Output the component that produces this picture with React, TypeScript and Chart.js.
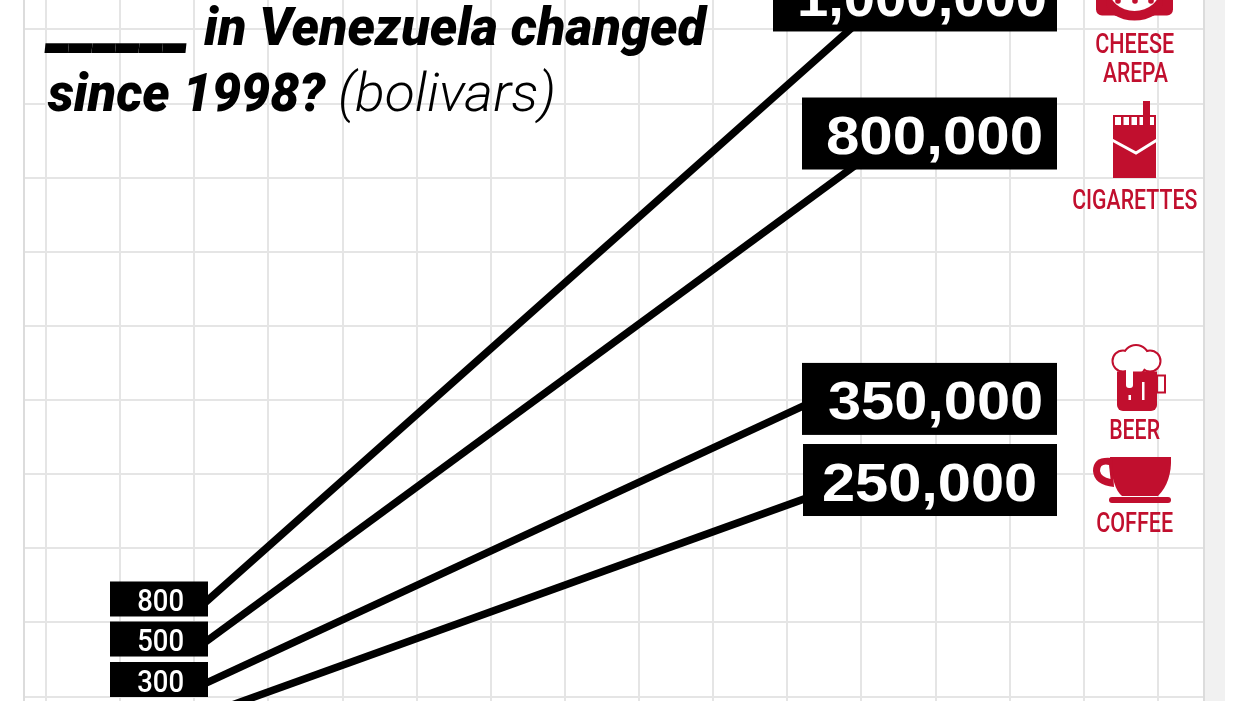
import React, { useEffect, useRef } from "react";
import { Chart, registerables } from "chart.js";

Chart.register(...registerables);

// Slope positions on the graph-paper scale (one unit = one grid square)
const items = ["Cheese arepa", "Cigarettes", "Beer", "Coffee"];
const sinceX = [2.1, 11.25];
const startPos = [1.228, 0.701, 0.156, -0.26];
const endPos = [9.36, 7.41, 4.4, 3.035];

const startLabels = ["800", "500", "300"];
const startLabelPos = [1.317, 0.777, 0.231];
const endLabels = ["1,000,000", "800,000", "350,000", "250,000"];
const endLabelPos = [9.458, 7.596, 4.016, 2.922];

const gridX = [0, 1, 2, 3, 4, 5, 6, 7, 8, 9, 10, 11, 12, 13, 14, 15];
const gridY = [0, 1, 2, 3, 4, 5, 6, 7, 8, 9];

const RED = "#c10f2e";
const GRID = "#e5e5e5";

function fit(ctx: CanvasRenderingContext2D, text: string, left: number, base: number, w: number, font: string, color: string) {
  ctx.save();
  ctx.font = font;
  ctx.fillStyle = color;
  ctx.textAlign = "left";
  ctx.textBaseline = "alphabetic";
  const m = ctx.measureText(text);
  const ink = m.actualBoundingBoxRight + m.actualBoundingBoxLeft;
  const k = w / ink;
  ctx.translate(left, base);
  ctx.scale(k, 1);
  ctx.fillText(text, m.actualBoundingBoxLeft, 0);
  ctx.restore();
}

function drawIcons(c: CanvasRenderingContext2D) {
  c.save();
  c.fillStyle = RED;
  // cheese arepa
  c.beginPath();
  c.roundRect(1096, -20, 77, 35.5, 6);
  c.fill();
  c.beginPath();
  c.ellipse(1134.5, 3, 28, 17.5, 0, 0, Math.PI * 2);
  c.fill();
  c.fillStyle = "#fff";
  c.beginPath();
  c.ellipse(1134.5, -12, 26, 23, 0, 0, Math.PI * 2);
  c.fill();
  c.fillStyle = RED;
  [1118, 1135, 1151].forEach((x) => {
    c.beginPath();
    c.arc(x, 1, 2.8, 0, Math.PI * 2);
    c.fill();
  });
  // cigarettes
  c.fillStyle = RED;
  c.fillRect(1143, 101, 7, 16);
  c.fillRect(1113, 115, 43, 63);
  c.fillStyle = "#fff";
  c.fillRect(1115, 117, 39, 8);
  c.fillStyle = RED;
  [1121, 1129, 1137, 1143].forEach((x) => c.fillRect(x, 117, 2.5, 8));
  c.fillRect(1143, 115, 7, 11);
  c.strokeStyle = "#fff";
  c.lineWidth = 3;
  c.beginPath();
  c.moveTo(1112, 140);
  c.lineTo(1136, 153);
  c.lineTo(1157, 140);
  c.stroke();
  // beer
  c.fillStyle = RED;
  c.strokeStyle = RED;
  c.lineWidth = 2;
  c.strokeRect(1157, 375.5, 8, 17);
  const foam: [number, number, number][] = [[1136, 358, 12], [1123, 361, 9.5], [1150, 361, 9.5], [1136, 365, 9]];
  c.beginPath();
  foam.forEach(([x, y, r]) => { c.moveTo(x + r + 2, y); c.arc(x, y, r + 2, 0, Math.PI * 2); });
  c.fill();
  c.fillStyle = "#fff";
  c.beginPath();
  foam.forEach(([x, y, r]) => { c.moveTo(x + r, y); c.arc(x, y, r, 0, Math.PI * 2); });
  c.fill();
  c.fillStyle = RED;
  c.beginPath();
  c.roundRect(1117, 371.5, 40, 39.5, [0, 0, 6, 6]);
  c.fill();
  c.fillStyle = "#fff";
  c.beginPath();
  c.roundRect(1126, 366, 7, 22, 3);
  c.fill();
  c.fillRect(1142, 382, 2.5, 18);
  c.fillRect(1128.5, 395, 2.5, 5);
  // coffee
  c.fillStyle = RED;
  c.beginPath();
  c.moveTo(1110, 457);
  c.lineTo(1171, 457);
  c.quadraticCurveTo(1172, 482, 1158, 496);
  c.lineTo(1122, 496);
  c.quadraticCurveTo(1112, 488, 1110, 457);
  c.fill();
  c.beginPath();
  c.moveTo(1112, 458);
  c.quadraticCurveTo(1093, 456, 1093, 471);
  c.quadraticCurveTo(1094, 485, 1114, 487);
  c.closePath();
  c.fill();
  c.fillStyle = "#fff";
  c.beginPath();
  c.moveTo(1109, 465);
  c.quadraticCurveTo(1100, 463, 1100, 471);
  c.quadraticCurveTo(1101, 477, 1110.5, 479);
  c.closePath();
  c.fill();
  c.fillStyle = RED;
  c.beginPath();
  c.roundRect(1109, 497, 62, 6, 3);
  c.fill();
  c.restore();
}

const decorations = {
  id: "decorations",
  beforeDraw(chart: any) {
    const c = chart.ctx as CanvasRenderingContext2D;
    c.save();
    c.fillStyle = "#fff";
    c.fillRect(0, 0, 1245, 701);
    c.fillStyle = "#f1f1f1";
    c.fillRect(1205, 0, 20, 701);
    c.restore();
  },
  beforeDatasetsDraw(chart: any) {
    const c = chart.ctx as CanvasRenderingContext2D;
    const a = chart.chartArea;
    c.save();
    c.fillStyle = "#dcdcdc";
    c.fillRect(a.left - 1, 0, 2, 701);
    c.fillRect(a.right - 1, 0, 2, 701);
    c.restore();
    const bold = "italic 900 53px Roboto";
    fit(c, "______", 44, 43, 143, "italic 700 90px Roboto", "#000");
    fit(c, "in Venezuela changed", 204, 45, 504, bold, "#000");
    fit(c, "since 1998?", 47, 111, 279, bold, "#000");
    fit(c, "(bolivars)", 340, 111, 213, "italic 300 53px Roboto", "#000");
  },
  afterDatasetsDraw(chart: any) {
    const c = chart.ctx as CanvasRenderingContext2D;
    const y = chart.scales.y;
    startLabels.forEach((t, i) => {
      const p = y.getPixelForValue(startLabelPos[i]);
      c.fillStyle = "#000";
      c.fillRect(110, p - 17.5, 98, 35);
      fit(c, t, 138, p + 12, 45, "500 32px Roboto", "#fff");
    });
    const lefts = [773, 802, 802, 803];
    const textL = [800, 827, 829, 823];
    const textW = [245, 214, 212, 212];
    endLabels.forEach((t, i) => {
      const p = y.getPixelForValue(endLabelPos[i]);
      c.fillStyle = "#000";
      c.fillRect(lefts[i], p - 36, 1057 - lefts[i], 72);
      fit(c, t, textL[i], p + 20.5, textW[i], "700 54px 'Liberation Sans'", "#fff");
    });
    drawIcons(c);
    const f = "500 27px Roboto";
    fit(c, "CHEESE", 1096, 53, 78, f, RED);
    fit(c, "AREPA", 1103, 82, 65, f, RED);
    fit(c, "CIGARETTES", 1073, 209, 124, f, RED);
    fit(c, "BEER", 1110, 439, 50, f, RED);
    fit(c, "COFFEE", 1097, 532, 76, f, RED);
  },
};

export default function App() {
  const ref = useRef<HTMLCanvasElement>(null);
  useEffect(() => {
    const chart = new Chart(ref.current as HTMLCanvasElement, {
      type: "scatter",
      data: {
        datasets: items.map((label, i) => ({
          label,
          data: [
            { x: sinceX[0], y: startPos[i] },
            { x: sinceX[1], y: endPos[i] },
          ],
          showLine: true,
          borderColor: "#000",
          backgroundColor: "#000",
          borderWidth: 7.5,
          pointRadius: 0,
          tension: 0,
        })),
      },
      options: {
        animation: false,
        responsive: false,
        layout: { padding: { left: 24, right: 41, top: 0, bottom: 0 } },
        plugins: { legend: { display: false }, title: { display: false }, tooltip: { enabled: false } },
        scales: {
          x: {
            type: "linear",
            min: -0.297,
            max: 15.62,
            grid: { color: GRID, lineWidth: 2, drawTicks: false },
            border: { display: false },
            ticks: { display: false },
            afterBuildTicks: (s: any) => { s.ticks = gridX.map((value) => ({ value })); },
          },
          y: {
            type: "linear",
            min: -0.059,
            max: 9.397,
            grid: { color: GRID, lineWidth: 2, drawTicks: false },
            border: { display: false },
            ticks: { display: false },
            afterBuildTicks: (s: any) => { s.ticks = gridY.map((value) => ({ value })); },
          },
        },
      },
      plugins: [decorations],
    } as any);
    return () => chart.destroy();
  }, []);
  return (
    <div style={{ position: "fixed", left: 0, top: 0, width: 1245, height: 701, overflow: "hidden", background: "#fff" }}>
      <canvas ref={ref} width={1245} height={701} style={{ display: "block" }} />
    </div>
  );
}
